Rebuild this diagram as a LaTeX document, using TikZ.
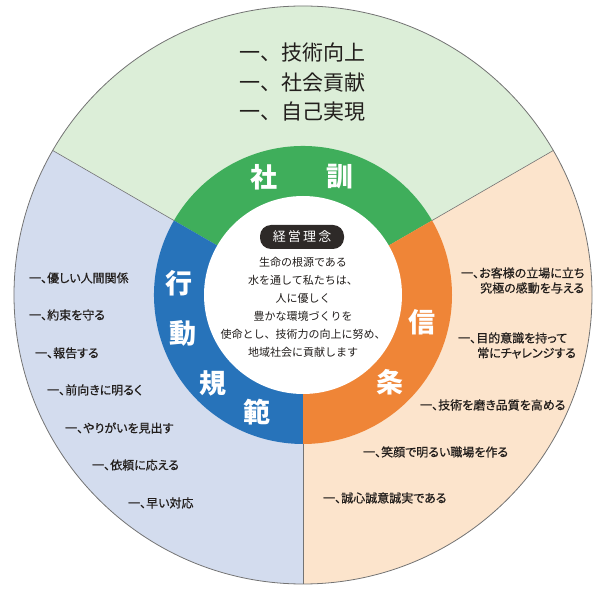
\documentclass[tikz,border=0pt]{standalone}
\usepackage{fontspec}
\usetikzlibrary{calc}
\setmainfont{Noto Sans CJK JP}
\newfontfamily\jp{Noto Sans CJK JP}
\newfontfamily\jpp[RawFeature=+palt,FakeBold=0.6]{Noto Sans CJK JP}
\definecolor{lgreen}{RGB}{220,238,216}
\definecolor{lblue}{RGB}{211,220,238}
\definecolor{lorange}{RGB}{252,228,204}
\definecolor{rgreen}{RGB}{63,174,91}
\definecolor{rblue}{RGB}{39,115,186}
\definecolor{rorange}{RGB}{239,133,55}
\definecolor{txt}{RGB}{34,30,28}
\definecolor{pill}{RGB}{46,42,40}
\begin{document}
\begin{tikzpicture}[x=1pt,y=1pt,
  toptext/.style={anchor=west,inner sep=0pt,text=txt,font=\jp\fontsize{21}{25}\selectfont},
  listtext/.style={anchor=west,inner sep=0pt,text=txt,font=\jpp\fontsize{12}{14}\selectfont},
  ringchar/.style={inner sep=0pt,text=white,font=\jp\bfseries\fontsize{27}{30}\selectfont},
  divider/.style={draw=black!55,line width=0.6pt}]
\useasboundingbox (0,0) rectangle (600,595);
\coordinate (C) at (303,300);
% outer sectors
\fill[lgreen] (C) -- ++(30:289pt) arc[start angle=30,end angle=150,radius=289pt] -- cycle;
\fill[lblue] (C) -- ++(150:289pt) arc[start angle=150,end angle=270,radius=289pt] -- cycle;
\fill[lorange] (C) -- ++(270:289pt) arc[start angle=270,end angle=390,radius=289pt] -- cycle;
% ring
\fill[rgreen] (C) -- ++(30:149pt) arc[start angle=30,end angle=150,radius=149pt] -- cycle;
\fill[rblue] (C) -- ++(150:149pt) arc[start angle=150,end angle=270,radius=149pt] -- cycle;
\fill[rorange] (C) -- ++(270:149pt) arc[start angle=270,end angle=390,radius=149pt] -- cycle;
\fill[white] (C) circle[radius=99pt];
% dividers
\foreach \a in {30,150,270} \draw[divider] ($(C)+(\a:149pt)$) -- ($(C)+(\a:289pt)$);
\draw[black!55,line width=0.8pt] (C) circle[radius=289pt];
% top text
\node[toptext] (t1) at (239,542) {一、技術向上};
\node[toptext] (t2) at (239,512) {一、社会貢献};
\node[toptext] (t3) at (239,483) {一、自己実現};
% center
\node[fill=pill,rounded corners=11pt,minimum width=84pt,minimum height=24pt,inner sep=0pt,text=white,font=\jp\fontsize{13}{15}\selectfont] (ph) at (302,358) {経\,営\,理\,念};
\node[align=center,inner sep=0pt,text=txt,font=\jp\fontsize{11}{18}\selectfont] (mission) at (303,288)
{生命の根源である\\水を通して私たちは、\\人に優しく\\豊かな環境づくりを\\使命とし、技術力の向上に努め、\\地域社会に貢献します};
% ring chars
\node[ringchar] (sha) at (264,418) {社};
\node[ringchar] (kun) at (340,418) {訓};
\node[ringchar] (k1) at (179,312) {行};
\node[ringchar] (k2) at (183,262) {動};
\node[ringchar] (k3) at (213,212) {規};
\node[ringchar] (k4) at (257,183) {範};
\node[ringchar] (s1) at (422,273) {信};
\node[ringchar] (s2) at (390,213) {条};
% left list
\node[listtext] (l1) at (29,317) {一、優しい人間関係};
\node[listtext] (l2) at (29,280) {一、約束を守る};
\node[listtext] (l3) at (35,242) {一、報告する};
\node[listtext] (l4) at (47,205) {一、前向きに明るく};
\node[listtext] (l5) at (65,167) {一、やりがいを見出す};
\node[listtext] (l6) at (92,130) {一、依頼に応える};
\node[listtext] (l7) at (128,92) {一、早い対応};
% right list
\node[listtext] (r1a) at (461,322) {一、お客様の立場に立ち};
\node[listtext] (r1b) at (480,307) {究極の感動を与える};
\node[listtext] (r2a) at (458,257) {一、目的意識を持って};
\node[listtext] (r2b) at (477,242) {常にチャレンジする};
\node[listtext] (r3) at (420,190) {一、技術を磨き品質を高める};
\node[listtext] (r4) at (363,143) {一、笑顔で明るい職場を作る};
\node[listtext] (r5) at (323,97) {一、誠心誠意誠実である};
\end{tikzpicture}
\end{document}
